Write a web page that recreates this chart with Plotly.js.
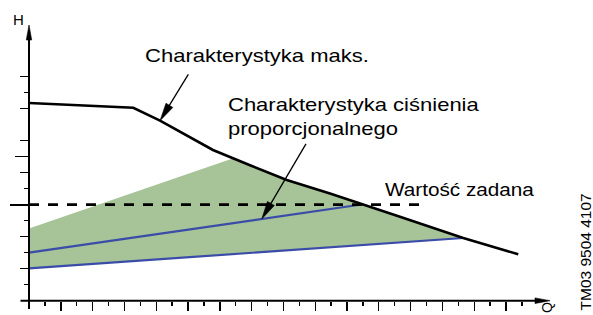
<!DOCTYPE html>
<html>
<head>
<meta charset="utf-8">
<script src="https://cdn.plot.ly/plotly-3.0.1.min.js"></script>
<style>
html,body{margin:0;padding:0;background:#fff;}
#chart{width:593px;height:315px;}
</style>
</head>
<body>
<div id="chart"></div>
<script>
// ---------- data (axis units = one tick step) ----------
const maxCurveQ = [0, 6.56, 8.24, 10.75, 11.57, 13.9, 16.21, 18.93, 21.02, 23.33, 27.31, 30.77];
const maxCurveH = [12.36, 12.06, 11.25, 9.84, 9.42, 8.47, 7.54, 6.70, 6.03, 5.25, 3.92, 2.90];
const setpointQ = [0, 24.7];
const setpointH = [6.0, 6.0];
const propUpperQ = [0, 21.02];
const propUpperH = [3.0, 6.03];
const propLowerQ = [0, 27.31];
const propLowerH = [2.02, 3.92];
const areaQ = [0, 12.85, 13.9, 16.21, 18.93, 21.02, 23.33, 27.31, 0];
const areaH = [4.52, 8.90, 8.47, 7.54, 6.70, 6.03, 5.25, 3.92, 2.02];

const xMajorTicks = [2, 4, 6, 8, 10, 12, 14, 16, 18, 20, 22, 24, 26, 28, 30];
const xMinorTicks = [1, 3, 5, 7, 9, 11, 13, 15, 17, 19, 21, 23, 25, 27, 29, 31];
const yMediumTicks = [2, 4, 8, 10, 12, 14];
const yShortTicks = [1, 3, 5, 7, 13];
const yLongTicks = [9];
const ySetTicks = [6];

const labelMax = 'Charakterystyka maks.';
const labelProp = 'Charakterystyka ciśnienia<br>proporcjonalnego';
const labelSet = 'Wartość zadana';
const labelH = 'H';
const labelQ = 'Q';
const labelCode = 'TM03 9504 4107';

// ---------- geometry / layout ----------
const W = 593, H = 315;
const M = {l: 20, r: 43, t: 25, b: 6};
const PW = W - M.l - M.r, PH = H - M.t - M.b;
const X0 = 29, KX = 15.9;      // pixel of Q=0, pixels per unit
const Y0 = 300.7, KY = 16;     // pixel of H=0, pixels per unit
const xRange = [(M.l - X0) / KX, (W - M.r - X0) / KX];
const yRange = [(Y0 - (H - M.b)) / KY, (Y0 - M.t) / KY];
const fx = px => (px - X0) / KX;
const fy = py => (Y0 - py) / KY;
const paperX = px => (px - M.l) / PW;
const paperY = py => (H - M.b - py) / PH;

const BLACK = '#000000';
const BLUE = '#3a4ca8';
const GREEN = '#a7c398';
const FONT = 'Liberation Sans, Arial, Helvetica, sans-serif';

const shapes = [];
const traces = [];

// arrow: shaft as a trace, head as a paper-referenced path shape
function addArrow(tail, tip, len, wid, lw) {
  const tx = X0 + tip[0] * KX, ty = Y0 - tip[1] * KY;
  const sx = X0 + tail[0] * KX, sy = Y0 - tail[1] * KY;
  const dx = tx - sx, dy = ty - sy, L = Math.hypot(dx, dy);
  const ux = dx / L, uy = dy / L, nx = -uy, ny = ux;
  const bx = tx - ux * len, by = ty - uy * len;
  const p1 = [bx + nx * wid / 2, by + ny * wid / 2];
  const p2 = [bx - nx * wid / 2, by - ny * wid / 2];
  const path = 'M' + paperX(tx) + ',' + paperY(ty) +
               ' L' + paperX(p1[0]) + ',' + paperY(p1[1]) +
               ' L' + paperX(p2[0]) + ',' + paperY(p2[1]) + ' Z';
  shapes.push({type: 'path', xref: 'paper', yref: 'paper', path: path,
    fillcolor: BLACK, line: {color: BLACK, width: 0.6}, layer: 'above'});
  const ex = tx - ux * len * 0.7, ey = ty - uy * len * 0.7;
  traces.push({x: [tail[0], fx(ex)], y: [tail[1], fy(ey)], mode: 'lines',
    line: {color: BLACK, width: lw}, hoverinfo: 'skip', showlegend: false});
}

// shaded operating area
traces.push({x: areaQ, y: areaH, mode: 'lines', fill: 'toself', fillcolor: GREEN,
  line: {width: 0, color: GREEN}, hoverinfo: 'skip', showlegend: false});
// proportional pressure curves
traces.push({x: propUpperQ, y: propUpperH, mode: 'lines', line: {color: BLUE, width: 2.2}, showlegend: false});
traces.push({x: propLowerQ, y: propLowerH, mode: 'lines', line: {color: BLUE, width: 2.2}, showlegend: false});
// set point
traces.push({x: setpointQ, y: setpointH, mode: 'lines', line: {color: BLACK, width: 2.7, dash: '10px,9px'}, showlegend: false});
// max curve
traces.push({x: maxCurveQ, y: maxCurveH, mode: 'lines', line: {color: BLACK, width: 2.6}, showlegend: false});

// axes with arrows
addArrow([xRange[0] + 0.03, 0], [xRange[1], 0], 15, 5.6, 2);
addArrow([0, yRange[0]], [0, yRange[1]], 15, 5.4, 2);

// pointer arrows
addArrow([10.02, 14.14], [8.24, 11.25], 18, 8, 1.3);
addArrow([17.42, 9.8], [14.64, 5.11], 18, 8, 1.3);

// dummy traces for extra tick axes
traces.push({x: [], y: [], yaxis: 'y2', showlegend: false});
traces.push({x: [], y: [], yaxis: 'y3', showlegend: false});

const yPos = (0 - xRange[0]) / (xRange[1] - xRange[0]);
const xPos = (0 - yRange[0]) / (yRange[1] - yRange[0]);

const tickBase = {
  showgrid: false, zeroline: false, showline: false, showticklabels: false,
  ticks: 'outside', tickmode: 'array', tickwidth: 1.4, tickcolor: BLACK,
  autorange: false, fixedrange: true
};

const layout = {
  width: W, height: H,
  margin: M,
  paper_bgcolor: '#ffffff', plot_bgcolor: '#ffffff',
  showlegend: false,
  hovermode: false,
  font: {family: FONT, color: BLACK},
  xaxis: Object.assign({}, tickBase, {
    range: xRange, anchor: 'free', position: xPos,
    tickvals: xMajorTicks, ticklen: 9,
    minor: {tickmode: 'array', tickvals: xMinorTicks, ticks: 'outside', ticklen: 4.5, tickwidth: 1.4, tickcolor: BLACK, showgrid: false}
  }),
  yaxis: Object.assign({}, tickBase, {
    range: yRange, anchor: 'free', position: yPos,
    tickvals: yMediumTicks, ticklen: 9,
    minor: {tickmode: 'array', tickvals: yShortTicks, ticks: 'outside', ticklen: 5, tickwidth: 1.4, tickcolor: BLACK, showgrid: false}
  }),
  yaxis2: Object.assign({}, tickBase, {
    range: yRange, overlaying: 'y', anchor: 'free', position: yPos, side: 'left',
    tickvals: yLongTicks, ticklen: 14
  }),
  yaxis3: Object.assign({}, tickBase, {
    range: yRange, overlaying: 'y', anchor: 'free', position: yPos, side: 'left',
    tickvals: ySetTicks, ticklen: 19, tickwidth: 1.8
  }),
  shapes: shapes,
  annotations: [
    {text: labelMax, x: fx(142.7), y: fy(55.3), xref: 'x', yref: 'y', xanchor: 'left', yanchor: 'middle',
     showarrow: false, font: {family: FONT, size: 18.5, color: BLACK}},
    {text: labelProp, x: fx(226), y: fy(116.3), xref: 'x', yref: 'y', xanchor: 'left', yanchor: 'middle', align: 'left',
     showarrow: false, font: {family: FONT, size: 18.5, color: BLACK}},
    {text: labelSet, x: fx(383.3), y: fy(189.3), xref: 'x', yref: 'y', xanchor: 'left', yanchor: 'middle',
     showarrow: false, font: {family: FONT, size: 18.5, color: BLACK}},
    {text: labelH, x: paperX(18), y: paperY(19.9), xref: 'paper', yref: 'paper', xanchor: 'center', yanchor: 'middle',
     showarrow: false, font: {family: FONT, size: 15, color: BLACK}},
    {text: labelQ, x: paperX(547), y: paperY(308), xref: 'paper', yref: 'paper', xanchor: 'center', yanchor: 'middle', textangle: -90,
     showarrow: false, font: {family: FONT, size: 14, color: BLACK}},
    {text: labelCode, x: paperX(585.5), y: paperY(252), xref: 'paper', yref: 'paper', xanchor: 'center', yanchor: 'middle', textangle: -90,
     showarrow: false, font: {family: FONT, size: 15.5, color: BLACK}}
  ]
};

const STRETCH = {0: 1.19, 1: 1.19, 2: 1.12};

Plotly.newPlot('chart', traces, layout, {staticPlot: true, displayModeBar: false}).then(gd => {
  gd.querySelectorAll('g.annotation').forEach(g => {
    const idx = +g.getAttribute('data-index');
    const s = STRETCH[idx];
    if (!s) return;
    const t = g.querySelector('text.annotation-text');
    if (!t) return;
    const bb = t.getBBox();
    t.setAttribute('transform', 'translate(' + (bb.x * (1 - s)) + ',0) scale(' + s + ',1)');
  });
});
</script>
</body>
</html>
